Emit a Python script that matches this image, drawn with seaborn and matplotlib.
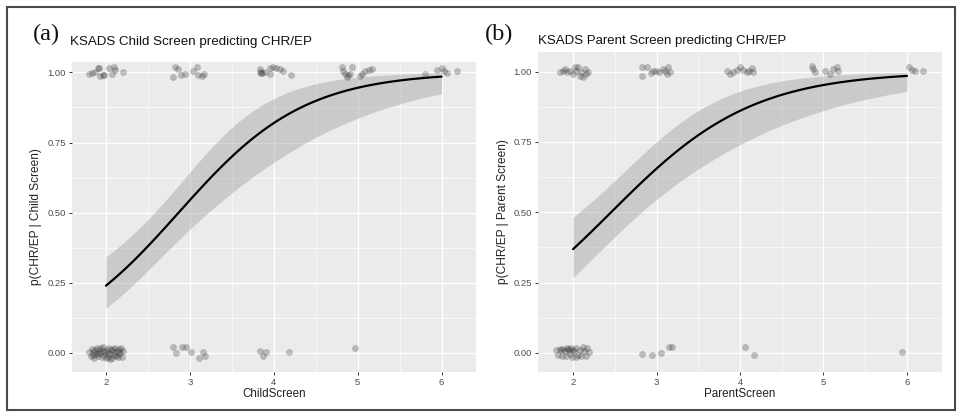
import numpy as np
import pandas as pd
import matplotlib
matplotlib.use("Agg")
import matplotlib.pyplot as plt
import seaborn as sns
from matplotlib.patches import Rectangle

# (a) child screen - jittered points as drawn (x = score, y = CHR/EP outcome)
child_x = [1.80, 1.83, 1.87, 1.91, 1.92, 1.93, 1.96, 1.98, 2.04, 2.07, 2.10, 2.11, 2.20,
           2.80, 2.82, 2.86, 2.90, 2.94, 3.04, 3.08, 3.10, 3.14, 3.17,
           3.83, 3.84, 3.85, 3.86, 3.89, 3.95, 3.96, 3.99, 4.03, 4.07, 4.11, 4.20,
           4.81, 4.83, 4.85, 4.87, 4.89, 4.91, 4.93, 5.03, 5.05, 5.09, 5.13, 5.17,
           5.80, 5.94, 6.00, 6.03, 6.06, 6.18,
           1.80, 1.82, 1.83, 1.85, 1.86, 1.87, 1.88, 1.89, 1.90, 1.91, 1.92, 1.93, 1.94, 1.95,
           1.96, 1.97, 1.98, 1.99, 2.00, 2.01, 2.02, 2.03, 2.04, 2.05, 2.06, 2.07, 2.08, 2.09,
           2.10, 2.11, 2.12, 2.13, 2.14, 2.15, 2.16, 2.17, 2.18, 2.19, 2.20, 1.84, 2.05,
           2.80, 2.84, 2.91, 2.95, 3.01, 3.11, 3.16, 3.18,
           3.84, 3.87, 3.91, 4.18,
           4.97]
child_y = [0.993, 0.998, 1.000, 1.017, 1.015, 0.986, 0.990, 0.992, 1.017, 0.995, 1.020, 1.010, 1.000,
           0.983, 1.019, 1.013, 0.989, 0.993, 1.005, 1.019, 0.989, 0.986, 0.993,
           1.013, 1.001, 0.998, 0.998, 1.001, 1.017, 0.995, 1.019, 1.017, 1.013, 1.005, 0.989,
           1.019, 1.005, 0.993, 0.983, 0.989, 0.995, 1.019, 0.986, 0.995, 1.005, 1.010, 1.013,
           0.993, 1.010, 1.017, 1.005, 0.998, 1.005,
           0.005, -0.012, 0.015, 0.002, -0.018, 0.010, -0.005, 0.018, 0.000, -0.010, 0.012, -0.002, 0.017, -0.015,
           0.006, 0.020, -0.008, 0.003, -0.019, 0.011, 0.001, -0.013, 0.016, -0.004, 0.009, -0.017, 0.014, -0.007,
           0.004, 0.019, -0.011, 0.007, -0.016, 0.013, -0.003, 0.002, 0.018, -0.014, 0.008, -0.009, -0.020,
           0.020, -0.001, 0.022, 0.020, 0.004, -0.018, 0.004, -0.011,
           0.008, -0.011, 0.004, 0.004,
           0.017]

# (b) parent screen
parent_x = [1.84, 1.88, 1.90, 1.93, 1.96, 2.00, 2.02, 2.04, 2.06, 2.08, 2.10, 2.12, 2.14, 2.16, 2.18,
            2.82, 2.83, 2.88, 2.93, 2.96, 2.99, 3.03, 3.08, 3.10, 3.12, 3.14, 3.16,
            3.85, 3.88, 3.92, 3.97, 4.00, 4.04, 4.08, 4.11, 4.14, 4.16,
            4.86, 4.88, 4.90, 5.02, 5.08, 5.12, 5.16, 5.18,
            6.02, 6.06, 6.10, 6.19,
            1.80, 1.82, 1.84, 1.85, 1.87, 1.88, 1.90, 1.91, 1.93, 1.94, 1.96, 1.97, 1.99,
            2.00, 2.01, 2.03, 2.04, 2.06, 2.08, 2.10, 2.12, 2.13, 2.15, 2.17, 2.19, 1.95,
            2.82, 2.94, 3.05, 3.15, 3.19,
            4.06, 4.17,
            5.94]
parent_y = [0.998, 1.004, 1.010, 0.998, 1.004, 0.992, 1.015, 1.004, 1.017, 0.986, 0.998, 0.982, 1.010, 0.992, 0.998,
            1.015, 0.986, 1.017, 0.994, 1.001, 1.004, 0.998, 1.010, 1.001, 0.992, 1.015, 0.998,
            1.001, 0.992, 0.998, 1.006, 1.015, 1.006, 0.998, 1.001, 1.013, 0.998,
            1.021, 1.010, 0.998, 1.001, 0.992, 1.010, 1.017, 1.001,
            1.015, 1.006, 1.001, 1.001,
            0.012, -0.006, 0.015, 0.010, -0.012, 0.014, 0.008, -0.010, 0.018, 0.013, -0.004, 0.016, -0.015,
            0.011, 0.006, -0.013, 0.017, -0.008, 0.009, -0.012, 0.020, 0.005, -0.010, 0.018, 0.002, 0.012,
            -0.004, -0.008, 0.001, 0.020, 0.020,
            0.022, -0.006,
            0.002]

# logistic fits: intercept/slope and their covariance
child_coef = [-3.82, 1.333]
child_cov = [[0.482, -0.167], [-0.167, 0.0628]]
parent_coef = [-2.895, 1.179]
parent_cov = [[0.3624, -0.1273], [-0.1273, 0.0507]]
score_range = [2, 6]


def expit(v):
    return 1 / (1 + np.exp(-v))


def fit_band(coef, cov):
    xs = np.linspace(score_range[0], score_range[1], 120)
    X = np.column_stack([np.ones_like(xs), xs])
    eta = X @ np.array(coef)
    se = np.sqrt(np.einsum('ij,jk,ik->i', X, np.array(cov), X))
    return pd.DataFrame({'x': xs, 'fit': expit(eta),
                         'lo': expit(eta - 1.96 * se), 'hi': expit(eta + 1.96 * se)})


sns.set_theme(style="darkgrid", rc={"axes.facecolor": "#EBEBEB", "grid.color": "white"})
plt.rcParams['font.family'] = ['Liberation Sans', 'DejaVu Sans']

fig = plt.figure(figsize=(9.59, 4.12), dpi=100)
ax_a = fig.add_axes([72 / 959, 1 - 372 / 412, 404 / 959, 310 / 412])
ax_b = fig.add_axes([538 / 959, 1 - 372 / 412, 404 / 959, 320 / 412])


def panel(ax, px, py, coef, cov, xlab, ylab, xlim, ylim, ylab_x, xlab_y):
    band = fit_band(coef, cov)
    ax.fill_between(band['x'], band['lo'], band['hi'], color='#999999', alpha=0.4, lw=0, zorder=2)
    sns.lineplot(data=band, x='x', y='fit', color='black', lw=1.6, ax=ax, zorder=3)
    sns.scatterplot(x=px, y=py, color='#333333', alpha=0.28, s=20, edgecolor='#333333',
                    linewidth=0.3, ax=ax, zorder=4)
    ax.set_xlim(*xlim)
    ax.set_ylim(*ylim)
    ax.set_xticks([2, 3, 4, 5, 6])
    ax.set_xticklabels(['2', '3', '4', '5', '6'])
    ax.set_yticks([0, 0.25, 0.5, 0.75, 1.0])
    ax.set_yticklabels(['0.00', '0.25', '0.50', '0.75', '1.00'])
    ax.set_xticks([2.5, 3.5, 4.5, 5.5], minor=True)
    ax.set_yticks([0.125, 0.375, 0.625, 0.875], minor=True)
    ax.grid(which='major', color='white', lw=0.9)
    ax.grid(which='minor', color='white', lw=0.45)
    ax.tick_params(which='major', bottom=True, left=True, length=2.5, width=0.7,
                   color='#333333', labelsize=6.8, labelcolor='#4D4D4D', pad=2)
    ax.tick_params(which='minor', bottom=False, left=False)
    for s in ax.spines.values():
        s.set_visible(False)
    ax.set_xlabel(xlab, fontsize=8.4, color='#222222')
    ax.set_ylabel(ylab, fontsize=8.6, color='#222222')
    ax.yaxis.set_label_coords(ylab_x, 0.5)
    ax.xaxis.set_label_coords(0.5, xlab_y)


panel(ax_a, child_x, child_y, child_coef, child_cov, 'ChildScreen', 'p(CHR/EP | Child Screen)',
      (1.595, 6.41), (-0.068, 1.037), -0.074, -0.052)
panel(ax_b, parent_x, parent_y, parent_coef, parent_cov, 'ParentScreen', 'p(CHR/EP | Parent Screen)',
      (1.58, 6.42), (-0.068, 1.070), -0.072, -0.05)

fig.text(33 / 959, 1 - 40 / 412, '(a)', family=['Liberation Serif', 'DejaVu Serif'], fontsize=17.5, color='#111111')
fig.text(485 / 959, 1 - 40 / 412, '(b)', family=['Liberation Serif', 'DejaVu Serif'], fontsize=17.5, color='#111111')
fig.text(70 / 959, 1 - 45 / 412, 'KSADS Child Screen predicting CHR/EP', fontsize=9.6, color='#111111')
fig.text(538 / 959, 1 - 44 / 412, 'KSADS Parent Screen predicting CHR/EP', fontsize=9.5, color='#111111')

fig.patches.append(Rectangle((7 / 959, 2 / 412), 948 / 959, 403 / 412, transform=fig.transFigure,
                             fill=False, edgecolor='#4a4a4a', lw=1.5))

fig.savefig('out.png', dpi=100, facecolor='white')
